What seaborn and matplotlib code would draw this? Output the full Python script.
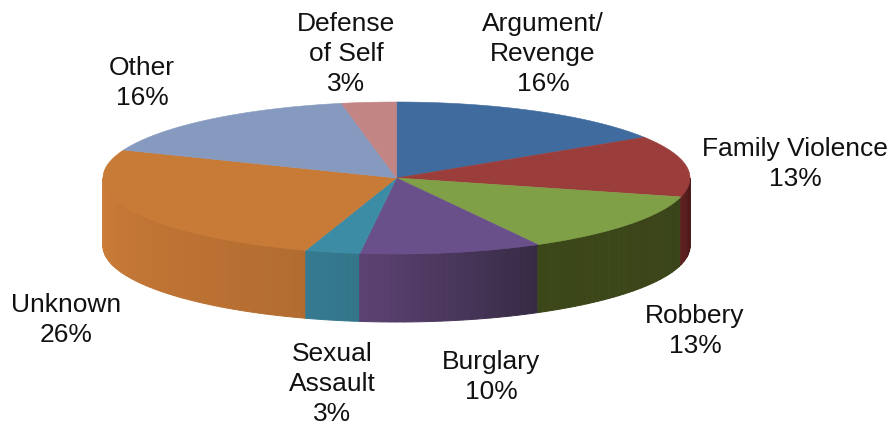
import numpy as np
import matplotlib
matplotlib.use("Agg")
import matplotlib.pyplot as plt
import seaborn as sns

categories = ["Argument/\nRevenge", "Family Violence", "Robbery", "Burglary",
              "Sexual\nAssault", "Unknown", "Other", "Defense\nof Self"]
shares = [16, 13, 13, 10, 3, 26, 16, 3]

top_colors = ["#3F6B9E", "#9B3E3B", "#80A048", "#69508A", "#3C8CA6", "#C87A37", "#869ABF", "#C38584"]
# Wall shading, running clockwise around the disc.
side_start = ["#2C4B70", "#471616", "#3A4419", "#372B45", "#33768A", "#B36C30", "#6B7A98", "#8F6160"]
side_end = ["#2C4B70", "#5E2020", "#3C4719", "#5C4272", "#357A90", "#CB7C38", "#6B7A98", "#8F6160"]

label_xy = [(543, 54), (795, 164), (695, 331), (491, 377), (332, 384), (66, 320), (142, 83), (346, 54)]

CX, CY, RX, RY, DEPTH = 396.5, 178.0, 293.5, 76.0, 68.0


def rim(theta):
    """Screen position of a clockwise-from-north angle on the top ellipse."""
    return CX + RX * np.sin(theta), CY - RY * np.cos(theta)


sns.set_theme(style="white")
plt.rcParams["font.family"] = ["Liberation Sans", "DejaVu Sans"]

fig = plt.figure(figsize=(8.91, 4.25), dpi=100, facecolor="white")
ax = fig.add_axes([0, 0, 1, 1])
ax.set_xlim(0, 891)
ax.set_ylim(425, 0)
ax.axis("off")

edges = np.cumsum([0] + shares) / sum(shares) * 2 * np.pi

# Outer wall: only the near half of the disc faces the viewer.
for i in range(len(shares)):
    a0, a1 = max(edges[i], np.pi / 2), min(edges[i + 1], 3 * np.pi / 2)
    if a1 <= a0:
        continue
    steps = max(2, int((a1 - a0) * 40))
    ramp = sns.blend_palette([side_start[i], side_end[i]], steps)
    cuts = np.linspace(a0, a1, steps + 1)
    for k in range(steps):
        t = np.linspace(cuts[k], cuts[k + 1], 6)
        x, y = rim(t)
        ax.fill(np.r_[x, x[::-1]], np.r_[y, y[::-1] + DEPTH],
                fc=ramp[k], ec=ramp[k], lw=0.7, zorder=2 + k / 1000)

# Top face wedges.
for i in range(len(shares)):
    t = np.linspace(edges[i], edges[i + 1], 200)
    x, y = rim(t)
    ax.fill(np.r_[CX, x], np.r_[CY, y], color=top_colors[i], lw=0.4,
            ec=top_colors[i], zorder=3)

for name, share, (lx, ly) in zip(categories, shares, label_xy):
    ax.text(lx, ly, f"{name}\n{share}%", ha="center", va="center",
            fontsize=19, color="#111111", linespacing=1.3, zorder=4)

fig.savefig("out.png", dpi=100)
